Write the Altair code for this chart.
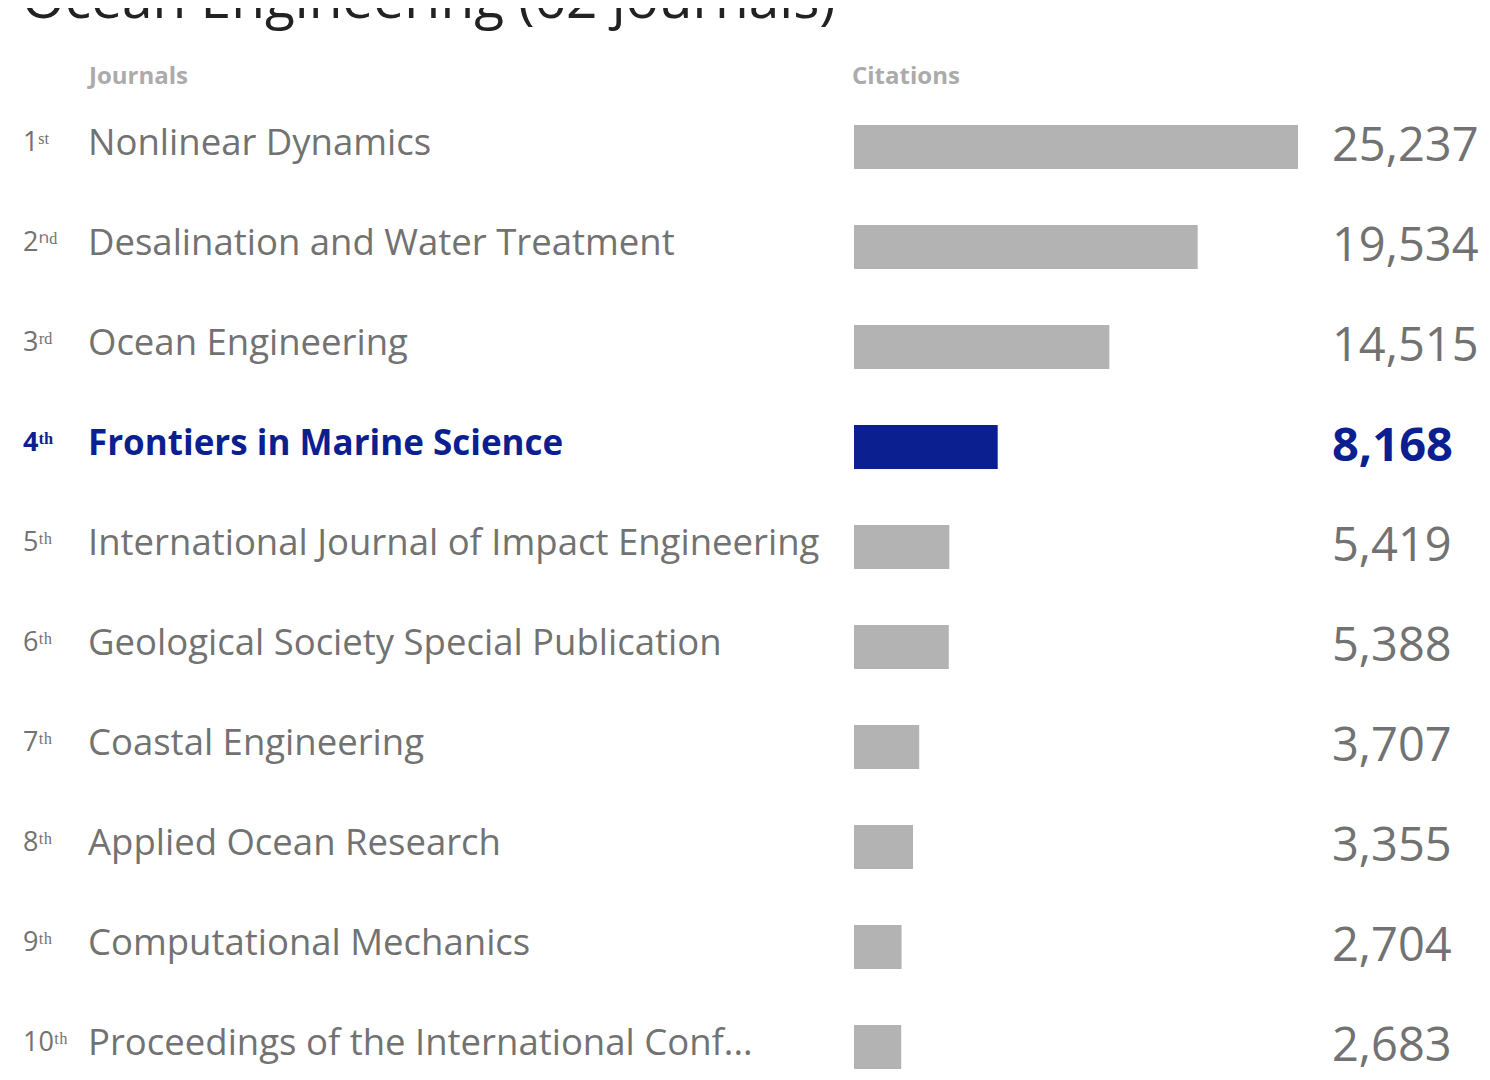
import altair as alt
import pandas as pd

title_text = "Ocean Engineering (62 journals)"
ranks = ["1", "2", "3", "4", "5", "6", "7", "8", "9", "10"]
suffixes = ["ˢᵗ", "ⁿᵈ", "ʳᵈ", "ᵗʰ", "ᵗʰ", "ᵗʰ", "ᵗʰ", "ᵗʰ", "ᵗʰ", "ᵗʰ"]
journals = [
    "Nonlinear Dynamics",
    "Desalination and Water Treatment",
    "Ocean Engineering",
    "Frontiers in Marine Science",
    "International Journal of Impact Engineering",
    "Geological Society Special Publication",
    "Coastal Engineering",
    "Applied Ocean Research",
    "Computational Mechanics",
    "Proceedings of the International Conf...",
]
citations = [25237, 19534, 14515, 8168, 5419, 5388, 3707, 3355, 2704, 2683]
highlight = "Frontiers in Marine Science"

GRAY_BAR = "#b3b3b3"
GRAY_TXT = "#727272"
BLUE = "#0b1f91"
FONT = "Open Sans"

df = pd.DataFrame({
    "rank": [r + s for r, s in zip(ranks, suffixes)],
    "journal": journals,
    "citations": citations,
})
df["hl"] = df["journal"] == highlight

y_enc = alt.Y("journal:N", sort=journals, axis=None,
              scale=alt.Scale(domain=journals, range=[89, 1089], paddingInner=0, paddingOuter=0))

base = alt.Chart(df)

bars = base.mark_bar(size=44).encode(
    x=alt.X("citations:Q", axis=None,
            scale=alt.Scale(domain=[0, 25237], range=[846, 1290], zero=True, nice=False)),
    y=y_enc,
    color=alt.condition(alt.datum.hl, alt.value(BLUE), alt.value(GRAY_BAR)),
)

normal = base.transform_filter(~alt.datum.hl)
hl = base.transform_filter(alt.datum.hl)

rank_n = normal.mark_text(align="left", baseline="alphabetic", dy=4, font=FONT,
                          fontSize=27, color=GRAY_TXT).encode(
    x=alt.value(15), y=y_enc, text="rank:N")
rank_h = hl.mark_text(align="left", baseline="alphabetic", dy=4, font=FONT,
                      fontSize=27, fontWeight="bold", color=BLUE).encode(
    x=alt.value(15), y=y_enc, text="rank:N")

name_n = normal.mark_text(align="left", baseline="alphabetic", dy=8, font=FONT,
                          fontSize=36.5, color=GRAY_TXT).encode(
    x=alt.value(80), y=y_enc, text="journal:N")
name_h = hl.mark_text(align="left", baseline="alphabetic", dy=8, font=FONT,
                      fontSize=35, fontWeight="bold", color=BLUE).encode(
    x=alt.value(80), y=y_enc, text="journal:N")

val_n = normal.mark_text(align="left", baseline="alphabetic", dy=14, font=FONT,
                         fontSize=47, color=GRAY_TXT).encode(
    x=alt.value(1324), y=y_enc, text=alt.Text("citations:Q", format=","))
val_h = hl.mark_text(align="left", baseline="alphabetic", dy=14, font=FONT,
                     fontSize=47, fontWeight="bold", color=BLUE).encode(
    x=alt.value(1324), y=y_enc, text=alt.Text("citations:Q", format=","))

hdr_j = alt.Chart(pd.DataFrame({"h": ["Journals"]})).mark_text(
    align="left", baseline="alphabetic", font=FONT, fontSize=24, fontWeight="bold", color="#ababab"
).encode(x=alt.value(81), y=alt.value(76), text="h:N")
hdr_c = alt.Chart(pd.DataFrame({"h": ["Citations"]})).mark_text(
    align="left", baseline="alphabetic", font=FONT, fontSize=24, fontWeight="bold", color="#ababab"
).encode(x=alt.value(844), y=alt.value(76), text="h:N")

title = alt.Chart(pd.DataFrame({"t": [title_text]})).mark_text(
    align="left", baseline="alphabetic", font=FONT, fontSize=55, color="#222222"
).encode(x=alt.value(14), y=alt.value(10), text="t:N")

chart = alt.layer(bars, rank_n, rank_h, name_n, name_h, val_n, val_h, hdr_j, hdr_c, title).properties(
    width=1474, height=1064,
    autosize=alt.AutoSizeParams(type="none"),
    padding=0,
).configure(background="white").configure_view(stroke=None)

chart.save("out.html", embed_options={"renderer": "svg", "actions": False})
